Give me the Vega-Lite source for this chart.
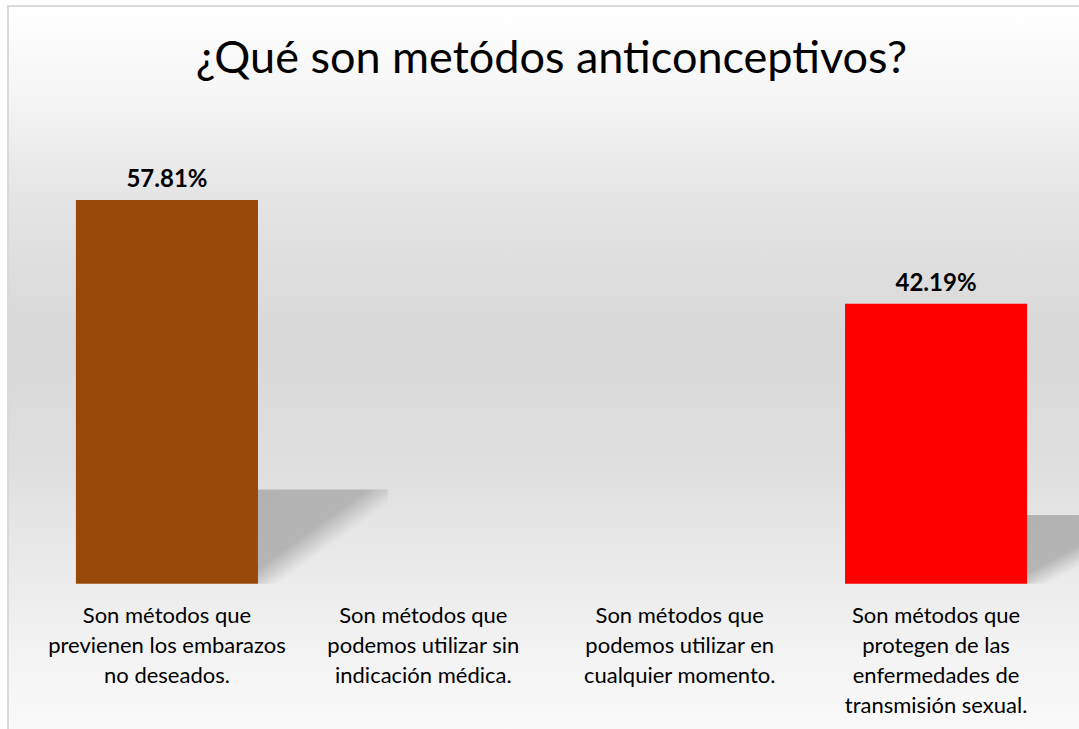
{
  "$schema": "https://vega.github.io/schema/vega-lite/v6.json",
  "autosize": {"type": "none"},
  "padding": {"left": 8, "top": 6, "right": 0, "bottom": 0},
  "width": 1087,
  "height": 724,
  "background": "#ffffff",
  "title": {
    "text": "¿Qué son metódos anticonceptivos?",
    "frame": "group",
    "anchor": "middle",
    "orient": "top",
    "offset": -112,
    "baseline": "alphabetic",
    "font": "Lato",
    "fontSize": 45,
    "fontWeight": "normal",
    "color": "#000000"
  },
  "data": {
    "values": [
      {"categoria": "Son métodos que|previenen los embarazos|no deseados.", "pct": 57.81, "etiqueta": "57.81%"},
      {"categoria": "Son métodos que|podemos utilizar sin|indicación médica.", "pct": 0, "etiqueta": ""},
      {"categoria": "Son métodos que|podemos utilizar en|cualquier momento.", "pct": 0, "etiqueta": ""},
      {"categoria": "Son métodos que|protegen de las|enfermedades de|transmisión sexual.", "pct": 42.19, "etiqueta": "42.19%"}
    ]
  },
  "config": {
    "view": {
      "stroke": "#d9d9d9",
      "strokeWidth": 2,
      "fill": {
        "gradient": "linear",
        "x1": 0, "y1": 0, "x2": 0, "y2": 1,
        "stops": [
          {"offset": 0, "color": "#ffffff"},
          {"offset": 0.102, "color": "#f7f7f7"},
          {"offset": 0.268, "color": "#e4e4e4"},
          {"offset": 0.461, "color": "#d8d8d8"},
          {"offset": 0.641, "color": "#dfdfdf"},
          {"offset": 0.798, "color": "#ececec"},
          {"offset": 1, "color": "#fafafa"}
        ]
      }
    }
  },
  "encoding": {
    "x": {
      "field": "categoria",
      "type": "nominal",
      "sort": [
        "Son métodos que|previenen los embarazos|no deseados.",
        "Son métodos que|podemos utilizar sin|indicación médica.",
        "Son métodos que|podemos utilizar en|cualquier momento.",
        "Son métodos que|protegen de las|enfermedades de|transmisión sexual."
      ],
      "scale": {"paddingInner": 0.29, "paddingOuter": 0.265},
      "axis": {
        "title": null,
        "orient": "bottom",
        "offset": -146,
        "domain": false,
        "ticks": false,
        "grid": false,
        "labelAngle": 0,
        "labelFont": "Lato",
        "labelFontSize": 22,
        "labelLineHeight": 30,
        "labelPadding": 21,
        "labelColor": "#000000",
        "labelExpr": "split(datum.label, '|')",
        "labelLimit": 0,
        "labelOverlap": false,
        "labelBound": false
      }
    },
    "y": {
      "field": "pct",
      "type": "quantitative",
      "scale": {"domain": [-22, 87]},
      "axis": null
    }
  },
  "layer": [
    {
      "transform": [{"filter": "datum.pct > 0"}],
      "mark": {
        "type": "bar",
        "width": 130,
        "xOffset": 156,
        "fill": {
          "gradient": "linear",
          "x1": 0, "y1": 0, "x2": 1, "y2": 1,
          "stops": [
            {"offset": 0, "color": "rgba(178,178,178,1)"},
            {"offset": 0.42, "color": "rgba(180,180,180,1)"},
            {"offset": 0.5, "color": "rgba(190,190,190,0.6)"},
            {"offset": 0.58, "color": "rgba(200,200,200,0)"},
            {"offset": 1, "color": "rgba(200,200,200,0)"}
          ]
        }
      },
      "encoding": {
        "y": {
          "field": "pct",
          "type": "quantitative",
          "scale": {"domain": [-89.43, 353.66]},
          "axis": null
        }
      }
    },
    {
      "mark": {"type": "bar"},
      "encoding": {
        "color": {
          "field": "categoria",
          "type": "nominal",
          "scale": {
            "domain": [
              "Son métodos que|previenen los embarazos|no deseados.",
              "Son métodos que|podemos utilizar sin|indicación médica.",
              "Son métodos que|podemos utilizar en|cualquier momento.",
              "Son métodos que|protegen de las|enfermedades de|transmisión sexual."
            ],
            "range": ["#984807", "#4f81bd", "#9bbb59", "#ff0000"]
          },
          "legend": null
        }
      }
    },
    {
      "transform": [{"filter": "datum.pct > 0"}],
      "mark": {"type": "text", "baseline": "bottom", "dy": -8, "font": "Lato", "fontSize": 24, "fontWeight": "bold", "color": "#000000"},
      "encoding": {"text": {"field": "etiqueta"}}
    }
  ],
  "resolve": {"scale": {"y": "independent"}}
}
